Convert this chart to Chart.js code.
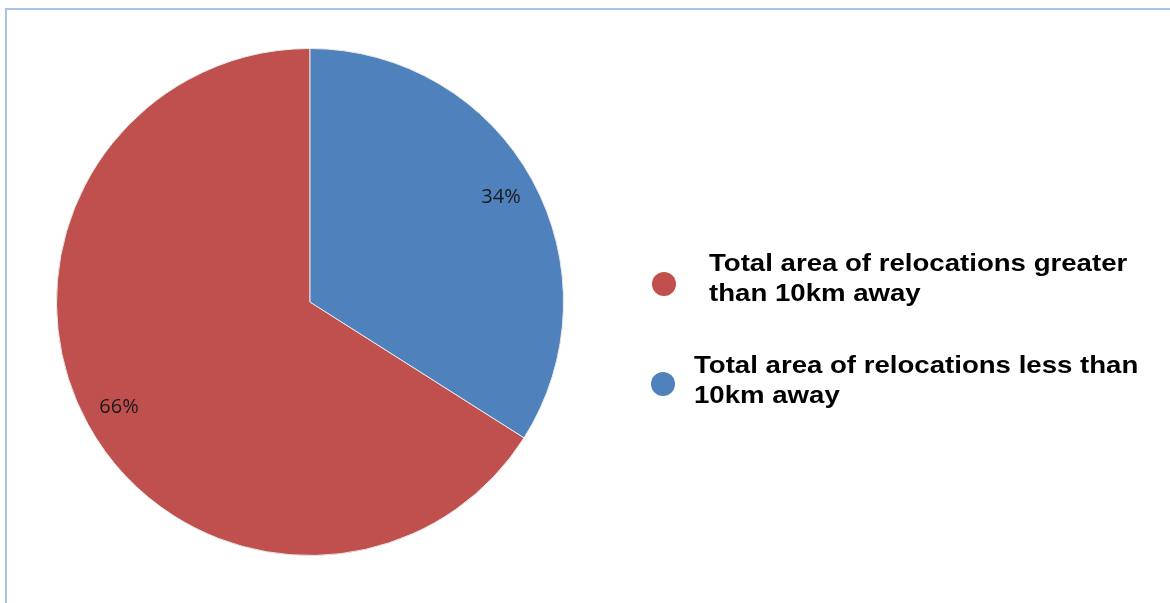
<!DOCTYPE html>
<html>
<head>
<meta charset="utf-8">
<script src="https://cdn.jsdelivr.net/npm/chart.js@4"></script>
<style>
  html, body { margin: 0; padding: 0; background: #fff; }
  #wrap { position: relative; width: 1170px; height: 603px; overflow: hidden; }
  #frame { position: absolute; left: 5px; top: 8px; width: 1200px; height: 700px;
           border-left: 2px solid #a9c3e6; border-top: 2px solid #a9c3e6; }
  canvas { position: absolute; left: 0; top: 0; }
  .leg { position: absolute; font: bold 24px "Liberation Sans", Arial, sans-serif; color: #000;
         line-height: 30px; white-space: nowrap; transform: scaleX(1.15); transform-origin: left top; }
  .dot { position: absolute; width: 24px; height: 24px; border-radius: 50%; }
</style>
</head>
<body>
<div id="wrap">
  <div id="frame"></div>
  <canvas id="pie" width="1170" height="603"></canvas>
  <div id="legend"></div>
</div>
<script>
// Pie: share of relocated area by distance
const labels = ['Total area of relocations greater than 10km away', 'Total area of relocations less than 10km away'];
const legendLines = [['Total area of relocations greater', 'than 10km away'], ['Total area of relocations less than', '10km away']];
const values = [66, 34];
const colors = ['#c0504d', '#4f81bd'];

// legend drawn as html so the labels can wrap like the original
const legendPos = [
  { dotX: 652, dotY: 272, textX: 709, textY: 248 },
  { dotX: 651, dotY: 372, textX: 694, textY: 350 },
];
const legend = document.getElementById('legend');
labels.forEach((l, i) => {
  const p = legendPos[i];
  const dot = document.createElement('div');
  dot.className = 'dot';
  dot.style.cssText = `left:${p.dotX}px;top:${p.dotY}px;background:${colors[i]}`;
  legend.appendChild(dot);
  const t = document.createElement('div');
  t.className = 'leg';
  t.style.left = p.textX + 'px';
  t.style.top = p.textY + 'px';
  t.innerHTML = legendLines[i].join('<br>');
  legend.appendChild(t);
});

const pctLabels = {
  id: 'pctLabels',
  afterDatasetsDraw(chart) {
    const ctx = chart.ctx;
    const total = values.reduce((a, b) => a + b, 0);
    chart.getDatasetMeta(0).data.forEach((arc, i) => {
      const mid = (arc.startAngle + arc.endAngle) / 2;
      const r = arc.outerRadius * 0.86;
      ctx.save();
      ctx.fillStyle = '#1a1a1a';
      ctx.font = '20px "Open Sans", sans-serif';
      ctx.textAlign = 'center';
      ctx.textBaseline = 'middle';
      ctx.fillText(Math.round(values[i] / total * 100) + '%', arc.x + Math.cos(mid) * r, arc.y + Math.sin(mid) * r);
      ctx.restore();
    });
  }
};

new Chart(document.getElementById('pie'), {
  type: 'pie',
  data: {
    labels: labels,
    datasets: [{
      data: values,
      backgroundColor: colors,
      borderColor: '#e8e8e8',
      borderWidth: 1,
    }],
  },
  options: {
    responsive: false,
    animation: false,
    rotation: 122.4,
    layout: { padding: { left: 56, right: 606, top: 48, bottom: 47 } },
    plugins: { legend: { display: false }, tooltip: { enabled: false } },
  },
  plugins: [pctLabels],
});
</script>
</body>
</html>
